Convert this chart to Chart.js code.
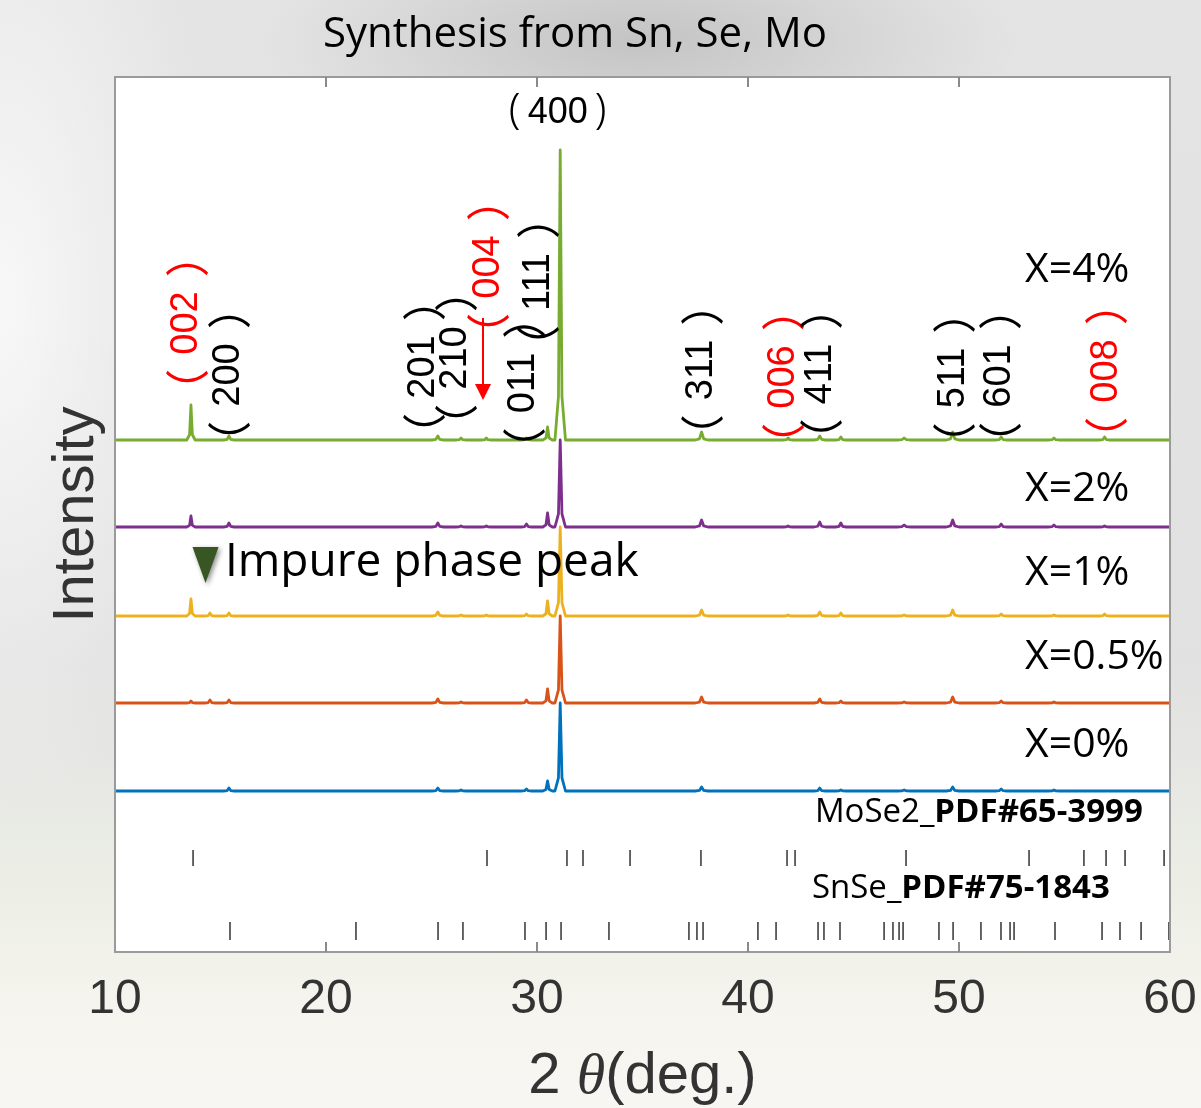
<!DOCTYPE html>
<html>
<head>
<meta charset="utf-8">
<script src="https://cdn.jsdelivr.net/npm/chart.js@4.4.1/dist/chart.umd.min.js"></script>
<style>
  html, body { margin: 0; padding: 0; }
  body {
    width: 1201px;
    height: 1108px;
    overflow: hidden;
    background:
      radial-gradient(ellipse 380px 130px at 640px 40px, rgba(190,190,190,0.85), rgba(190,190,190,0)),
      radial-gradient(ellipse 220px 520px at 0px 300px, rgba(250,250,250,0.9), rgba(250,250,250,0)),
      linear-gradient(to bottom, #e4e4e4 0%, #e1e1e1 60%, #eceee6 80%, #f6f5ef 92%, #f8f6f2 100%);
  }
  canvas { display: block; }
</style>
</head>
<body>
<canvas id="xrd" width="1201" height="1108"></canvas>
<script>
// 2theta axis
const X_TICKS = [10, 20, 30, 40, 50, 60];

// samples, top to bottom
const SERIES_NAMES = ['X=4%', 'X=2%', 'X=1%', 'X=0.5%', 'X=0%'];
const SERIES_OFFSETS = [512, 425, 336, 249, 161];   // stacking offset (a.u.)

// peak positions (deg) and base widths, shared by all samples
const PEAK_POS   = [13.6, 14.5, 15.4, 25.3, 26.4, 27.6, 29.5, 30.5, 31.1, 37.8, 41.9, 43.4, 44.4, 47.4, 49.7, 52.0, 54.5, 56.9];
const PEAK_WIDTH = [0.40, 0.50, 0.50, 0.55, 0.50, 0.45, 0.50, 0.45, 0.50, 0.60, 0.45, 0.55, 0.50, 0.65, 0.60, 0.55, 0.55, 0.50];

// peak heights above baseline (a.u.), one list per sample
const PEAKS_X4  = [35, 0, 4, 4, 2, 2, 2, 13, 290, 8, 2, 4, 3, 2, 8, 3, 2, 3];
const PEAKS_X2  = [11, 0, 4, 4, 1, 1, 3, 14, 87, 7, 1, 5, 4, 2, 7, 3, 2, 1];
const PEAKS_X1  = [17, 3, 3, 4, 1, 1, 2, 15, 89, 6, 1, 4, 3, 1, 6, 2, 1, 2];
const PEAKS_X05 = [2, 3, 3, 4, 1, 0, 3, 14, 87, 6, 0, 4, 2, 1, 6, 2, 1, 0];
const PEAKS_X0  = [0, 0, 3, 3, 1, 0, 2, 10, 88, 4, 0, 3, 1, 1, 4, 2, 1, 0];
const SERIES_PEAKS = [PEAKS_X4, PEAKS_X2, PEAKS_X1, PEAKS_X05, PEAKS_X0];

// reference patterns
const MOSE2_LINES = [13.70, 27.63, 31.42, 32.18, 34.41, 37.77, 41.85, 42.23, 47.49, 53.32, 55.92, 56.97, 57.87, 59.72];
const SNSE_LINES = [15.45, 21.42, 25.31, 26.49, 29.43, 30.43, 31.14, 33.41, 37.20, 37.58, 37.87, 40.47, 41.33,
  43.32, 43.60, 44.36, 46.45, 46.87, 47.16, 47.35, 49.05, 49.72, 51.04, 51.99, 52.42, 52.61, 54.55, 56.78,
  57.63, 58.63, 59.95];

// peak indexing
const HKL_TEXT  = ['002', '200', '201', '210', '004', '011', '111', '311', '006', '411', '511', '601', '008'];
const HKL_PHASE = ['MoSe2', 'SnSe', 'SnSe', 'SnSe', 'MoSe2', 'SnSe', 'SnSe', 'SnSe', 'MoSe2', 'SnSe', 'SnSe', 'SnSe', 'MoSe2'];

// ---- layout / style (not data) ----
const COLORS = ['#77ac30', '#7e2f8e', '#edb120', '#d95319', '#0072bd'];
const HKL_AT_X = [13.41, 15.40, 24.64, 26.16, 27.68, 29.38, 30.05, 37.82, 41.66, 43.46, 49.76, 51.94, 56.97];
const HKL_AT_Y = [629, 577, 585, 594, 685, 569, 670, 582, 575, 578, 574, 576, 581];
const NAME_AT_X = 53.13;
const NAME_AT_Y = [682, 463, 379, 295, 207];

function buildTrace(heights, offset) {
  const pts = [{x: 10, y: offset}];
  PEAK_POS.forEach((p, i) => {
    const h = heights[i];
    if (!h) return;
    const w = PEAK_WIDTH[i];
    pts.push({x: p - w / 2, y: offset});
    pts.push({x: p - w / 6, y: offset + h * 0.15});
    pts.push({x: p, y: offset + h});
    pts.push({x: p + w / 6, y: offset + h * 0.15});
    pts.push({x: p + w / 2, y: offset});
  });
  pts.push({x: 60, y: offset});
  return pts;
}

const traceSets = SERIES_NAMES.map((name, i) => ({
  type: 'line',
  label: name,
  data: buildTrace(SERIES_PEAKS[i], SERIES_OFFSETS[i]),
  borderColor: COLORS[i],
  borderWidth: 2.8,
  pointRadius: 0,
  tension: 0,
  borderJoinStyle: 'round'
}));

const refSet = (lines, level, len) => ({
  type: 'scatter',
  data: lines.map(x => ({x, y: level})),
  pointStyle: 'line',
  pointRotation: 90,
  pointRadius: len,
  pointBorderColor: '#555',
  pointBorderWidth: 1.8,
  pointBackgroundColor: '#555',
  showLine: false
});

// draws "（hkl）" with shallow full-width brackets set apart from the digits
function drawHkl(ctx, t, gap) {
  ctx.font = '38px "Liberation Sans", sans-serif';
  ctx.textAlign = 'center';
  ctx.textBaseline = 'middle';
  const w = ctx.measureText(t).width;
  ctx.fillText(t, 0, 0);
  ctx.font = '44px "Noto Sans CJK JP", sans-serif';
  ctx.textAlign = 'left';
  ctx.textBaseline = 'alphabetic';
  const l = ctx.measureText('（'), r = ctx.measureText('）');
  ctx.fillText('（', -w / 2 - gap - l.actualBoundingBoxRight, (l.actualBoundingBoxAscent - l.actualBoundingBoxDescent) / 2);
  ctx.fillText('）', w / 2 + gap + r.actualBoundingBoxLeft, (r.actualBoundingBoxAscent - r.actualBoundingBoxDescent) / 2);
}

const decor = {
  id: 'decor',
  beforeDraw(chart) {
    const {ctx, chartArea: a} = chart;
    ctx.save();
    ctx.fillStyle = '#fff';
    ctx.fillRect(a.left, a.top, a.right - a.left, a.bottom - a.top);
    ctx.restore();
  },
  afterDatasetsDraw(chart) {
    const {ctx, chartArea: a, scales: {x, y}} = chart;
    ctx.save();
    // frame and inward ticks
    ctx.strokeStyle = '#9a9a9a';
    ctx.lineWidth = 2;
    ctx.strokeRect(a.left, a.top, a.right - a.left, a.bottom - a.top);
    ctx.strokeStyle = '#8a8a8a';
    X_TICKS.slice(1, -1).forEach(v => {
      const px = x.getPixelForValue(v);
      ctx.beginPath();
      ctx.moveTo(px, a.top); ctx.lineTo(px, a.top + 10);
      ctx.moveTo(px, a.bottom); ctx.lineTo(px, a.bottom - 10);
      ctx.stroke();
    });

    // hkl labels, rotated
    HKL_TEXT.forEach((t, i) => {
      ctx.save();
      ctx.translate(x.getPixelForValue(HKL_AT_X[i]), y.getPixelForValue(HKL_AT_Y[i]));
      ctx.rotate(-Math.PI / 2);
      ctx.fillStyle = HKL_PHASE[i] === 'MoSe2' ? '#ff0000' : '#000';
      drawHkl(ctx, t, 16);
      ctx.restore();
    });
    ctx.fillStyle = '#000';
    ctx.textAlign = 'center';
    ctx.textBaseline = 'middle';
    ctx.font = '36px "Liberation Sans", sans-serif';
    ctx.fillText('400', x.getPixelForValue(30.98), y.getPixelForValue(839));
    ctx.font = '300 42px "Noto Sans", sans-serif';
    ctx.fillText('(', x.getPixelForValue(30.98) - 43, y.getPixelForValue(839) - 2);
    ctx.fillText(')', x.getPixelForValue(30.98) + 43, y.getPixelForValue(839) - 2);

    // red arrow for (004)
    const ax = x.getPixelForValue(27.44);
    const ay0 = y.getPixelForValue(634), ay1 = y.getPixelForValue(552);
    ctx.strokeStyle = '#ff0000';
    ctx.fillStyle = '#ff0000';
    ctx.lineWidth = 2;
    ctx.beginPath(); ctx.moveTo(ax, ay0); ctx.lineTo(ax, ay1 - 14); ctx.stroke();
    ctx.beginPath(); ctx.moveTo(ax - 8, ay1 - 16); ctx.lineTo(ax + 8, ay1 - 16); ctx.lineTo(ax, ay1); ctx.closePath(); ctx.fill();

    // sample names
    ctx.fillStyle = '#000';
    ctx.textAlign = 'left';
    ctx.font = '41px "Open Sans", sans-serif';
    SERIES_NAMES.forEach((n, i) => {
      ctx.fillText(n, x.getPixelForValue(NAME_AT_X), y.getPixelForValue(NAME_AT_Y[i]));
    });

    // impurity marker
    const tx = x.getPixelForValue(14.29), tTop = y.getPixelForValue(405), tBot = y.getPixelForValue(369);
    ctx.save();
    ctx.shadowColor = 'rgba(0,0,0,0.45)';
    ctx.shadowBlur = 5;
    ctx.shadowOffsetX = 2;
    ctx.shadowOffsetY = 2;
    ctx.fillStyle = '#375623';
    ctx.beginPath(); ctx.moveTo(tx - 13, tTop); ctx.lineTo(tx + 13, tTop); ctx.lineTo(tx, tBot); ctx.closePath(); ctx.fill();
    ctx.restore();
    ctx.font = '46px "Open Sans", sans-serif';
    ctx.fillText('Impure phase peak', x.getPixelForValue(15.21), y.getPixelForValue(389));

    // reference card labels
    const card = (plain, bold, at, v) => {
      let px = x.getPixelForValue(at);
      const py = y.getPixelForValue(v);
      ctx.font = '33px "Open Sans", sans-serif';
      ctx.fillText(plain, px, py);
      px += ctx.measureText(plain).width;
      ctx.font = 'bold 33px "Open Sans", sans-serif';
      ctx.fillText(bold, px, py);
    };
    card('MoSe2_', 'PDF#65-3999', 43.17, 139);
    card('SnSe_', 'PDF#75-1843', 43.03, 63);
    ctx.restore();
  },
  afterDraw(chart) {
    const {ctx, chartArea: a} = chart;
    ctx.save();
    ctx.fillStyle = '#000';
    ctx.textAlign = 'center';
    ctx.textBaseline = 'middle';
    ctx.font = '42px "Open Sans", sans-serif';
    ctx.fillText('Synthesis from Sn, Se, Mo', 575, 35);

    // x title with italic theta
    const parts = [['2 ', '58px "Liberation Sans", sans-serif'], ['θ', 'italic 58px "Liberation Serif", serif'], ['(deg.)', '58px "Liberation Sans", sans-serif']];
    let total = 0;
    parts.forEach(([t, f]) => { ctx.font = f; total += ctx.measureText(t).width; });
    let px = (a.left + a.right) / 2 - total / 2;
    ctx.textAlign = 'left';
    ctx.textBaseline = 'alphabetic';
    ctx.fillStyle = '#333';
    parts.forEach(([t, f]) => { ctx.font = f; ctx.fillText(t, px, 1093); px += ctx.measureText(t).width; });
    ctx.restore();
  }
};

new Chart(document.getElementById('xrd'), {
  data: {
    datasets: [...traceSets, refSet(MOSE2_LINES, 94, 8), refSet(SNSE_LINES, 21, 9)]
  },
  options: {
    responsive: false,
    animation: false,
    layout: {padding: {top: 77, right: 31, bottom: 0, left: 0}},
    plugins: {legend: {display: false}, tooltip: {enabled: false}, title: {display: false}},
    scales: {
      x: {
        type: 'linear',
        min: 10,
        max: 60,
        afterBuildTicks: s => { s.ticks = X_TICKS.map(v => ({value: v})); },
        afterFit: s => { s.height = 156; s.paddingLeft = 0; s.paddingRight = 0; },
        grid: {display: false, drawTicks: false},
        border: {display: false},
        ticks: {
          padding: 19,
          color: '#333',
          font: {family: '"Liberation Sans", sans-serif', size: 48},
          maxRotation: 0
        }
      },
      y: {
        type: 'linear',
        min: 0,
        max: 875,
        afterFit: s => { s.width = 115; },
        grid: {display: false, drawTicks: false},
        border: {display: false},
        ticks: {display: false},
        title: {
          display: true,
          text: 'Intensity',
          color: '#333',
          font: {family: '"Liberation Sans", sans-serif', size: 58},
          padding: {top: 42, bottom: 0}
        }
      }
    }
  },
  plugins: [decor]
});
</script>
</body>
</html>
